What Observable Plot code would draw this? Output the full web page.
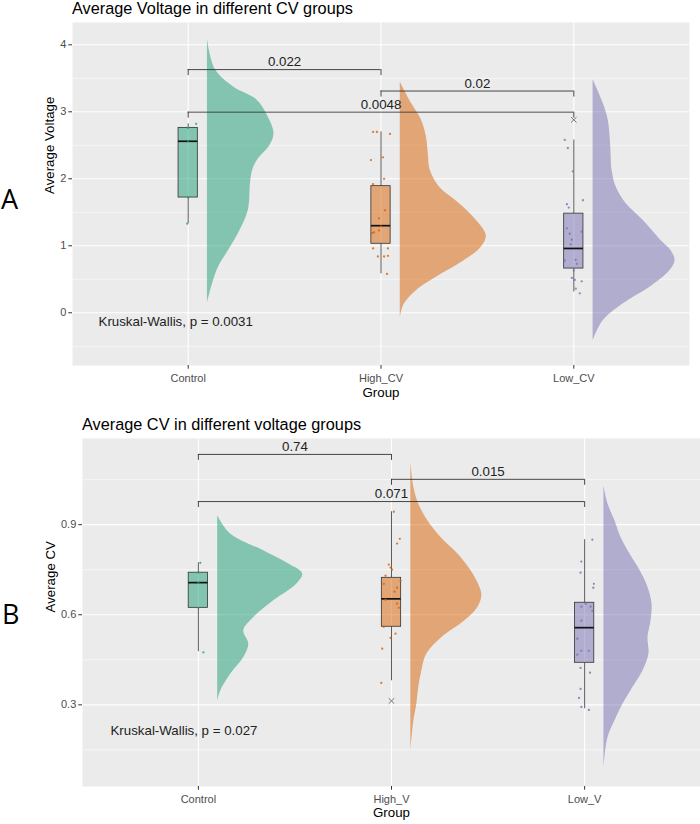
<!DOCTYPE html>
<html><head><meta charset="utf-8">
<script src="https://cdn.jsdelivr.net/npm/d3@7"></script>
<script src="https://cdn.jsdelivr.net/npm/@observablehq/plot@0.6"></script>
<style>
body{margin:0;background:#fff;font-family:"Liberation Sans",Arial,sans-serif;}
#wrap{position:relative;width:700px;height:824px;overflow:hidden;background:#fff;}
.title{position:absolute;font-size:16.3px;line-height:1;color:#000;white-space:nowrap;}
.letter{position:absolute;font-family:"Open Sans",Lato,sans-serif;font-size:27px;line-height:1;color:#000;}
.panel{position:absolute;left:0;}
</style></head><body>
<div id="wrap">
  <div class="title" style="left:72px;top:0px">Average Voltage in different CV groups</div>
  <div class="title" style="left:82px;top:416px">Average CV in different voltage groups</div>
  <div class="letter" style="left:1px;top:185px">A</div>
  <div class="letter" style="left:2px;top:600px">B</div>
  <div class="panel" id="pA" style="top:0px"></div>
  <div class="panel" id="pB" style="top:412px"></div>
</div>
<script>
// ---------- shared ----------
const colors = ["#1B9E77", "#D95F02", "#7570B3"];

// ---------- Panel A: Average Voltage ----------
const groupsA = ["Control", "High_CV", "Low_CV"];
// [lower whisker, Q1, median, Q3, upper whisker]
const boxA = [
  [1.33, 1.72, 2.56, 2.76, 2.82],
  [0.58, 1.03, 1.30, 1.89, 2.70],
  [0.31, 0.66, 0.96, 1.48, 2.58]
];
const outliersA = [[3, 2.88]];
// jittered points: [offset, value]
const pointsA_Control = [[-0.005, 1.33], [0, 1.72], [0, 2.56], [0, 2.76], [0.041, 2.82]];
const pointsA_High = [[-0.041, 2.70], [-0.021, 2.70], [0.047, 2.67], [-0.052, 2.28], [0.010, 2.32], [0.016, 2.00],
  [-0.041, 1.92], [0.021, 1.53], [-0.010, 1.41], [0, 1.29], [-0.010, 1.23], [-0.036, 1.20], [-0.047, 1.19],
  [-0.041, 0.96], [0.036, 0.96], [-0.016, 0.84], [0.016, 0.84], [0.036, 0.85], [0.031, 0.58]];
const pointsA_Low = [[-0.047, 2.58], [-0.031, 2.46], [-0.005, 2.11], [0.047, 1.68], [-0.036, 1.62], [-0.026, 1.57],
  [-0.036, 1.26], [-0.021, 1.18], [-0.010, 1.09], [-0.016, 1.02], [0.041, 1.21], [-0.047, 0.78], [0.010, 0.79],
  [0.016, 0.73], [0, 0.63], [-0.010, 0.52], [0.005, 0.49], [0.041, 0.47], [0.010, 0.36], [0.031, 0.29]];
// half-violin profiles: [value, half-width in group units]
const violinA_Control = [[4.08, 0], [3.63, 0.041], [3.37, 0.135], [3.18, 0.255], [2.95, 0.31], [2.68, 0.345],
  [2.5, 0.325], [2.28, 0.26], [2.13, 0.235], [1.93, 0.223], [1.53, 0.212], [1.18, 0.16], [0.93, 0.109],
  [0.68, 0.057], [0.43, 0.026], [0.15, 0]];
const violinA_High = [[3.44, 0], [3.13, 0.057], [2.88, 0.109], [2.63, 0.135], [2.38, 0.145], [2.13, 0.155],
  [1.88, 0.202], [1.63, 0.306], [1.38, 0.394], [1.15, 0.446], [0.98, 0.42], [0.73, 0.306], [0.53, 0.187],
  [0.33, 0.083], [0.13, 0.021], [-0.07, 0]];
const violinA_Low = [[3.48, 0], [3.13, 0.052], [2.88, 0.078], [2.63, 0.088], [2.38, 0.093], [2.13, 0.098],
  [1.88, 0.119], [1.63, 0.171], [1.38, 0.259], [1.08, 0.352], [0.93, 0.404], [0.78, 0.425], [0.63, 0.399],
  [0.38, 0.295], [0.13, 0.155], [-0.12, 0.052], [-0.42, 0]];
const bracketsA = [
  {g1: 1, g2: 2, y: 3.63, label: "0.022"},
  {g1: 2, g2: 3, y: 3.31, label: "0.02"},
  {g1: 1, g2: 3, y: 2.995, label: "0.0048"}
];
const kwA = {x: 0.535, y: -0.13, label: "Kruskal-Wallis, p = 0.0031"};
const yTicksA = [0, 1, 2, 3, 4];
const yTickLabelsA = ["0", "1", "2", "3", "4"];
const yMinorA = [-0.5, 0.5, 1.5, 2.5, 3.5];

// ---------- Panel B: Average CV ----------
const groupsB = ["Control", "High_V", "Low_V"];
const boxB = [
  [0.477, 0.623, 0.707, 0.74, 0.773],
  [0.38, 0.56, 0.653, 0.723, 0.943],
  [0.287, 0.44, 0.557, 0.64, 0.85]
];
const outliersB = [[2, 0.313]];
const pointsB_Control = [[0.026, 0.475], [0, 0.623], [0, 0.707], [0, 0.74], [0.01, 0.773]];
const pointsB_High = [[0.012, 0.943], [0.043, 0.853], [0.029, 0.837], [-0.014, 0.767], [-0.005, 0.757], [0.003, 0.75],
  [-0.031, 0.73], [0.047, 0.713], [-0.040, 0.703], [0.029, 0.69], [0.016, 0.677], [-0.031, 0.65], [0.029, 0.637],
  [0.038, 0.623], [-0.040, 0.56], [0.021, 0.537], [-0.005, 0.523], [-0.048, 0.487], [-0.053, 0.373]];
const pointsB_Low = [[0.040, 0.85], [-0.017, 0.777], [-0.021, 0.74], [0.048, 0.703], [0.045, 0.69], [0.005, 0.637],
  [-0.017, 0.627], [0.031, 0.627], [0.040, 0.613], [-0.017, 0.58], [-0.038, 0.52], [-0.017, 0.48], [0.022, 0.48],
  [-0.038, 0.467], [-0.021, 0.423], [0.028, 0.407], [-0.021, 0.353], [-0.029, 0.323], [-0.017, 0.293], [0.022, 0.283]];
const violinB_Control = [[0.93, 0], [0.869, 0.067], [0.813, 0.238], [0.769, 0.368], [0.736, 0.44], [0.702, 0.409],
  [0.647, 0.29], [0.591, 0.187], [0.547, 0.135], [0.502, 0.161], [0.458, 0.135], [0.402, 0.067], [0.347, 0.016],
  [0.313, 0]];
const violinB_High = [[1.108, 0], [1.024, 0.016], [0.969, 0.041], [0.913, 0.088], [0.858, 0.155], [0.802, 0.244],
  [0.747, 0.311], [0.691, 0.358], [0.663, 0.368], [0.624, 0.347], [0.58, 0.28], [0.524, 0.161], [0.469, 0.083],
  [0.413, 0.057], [0.358, 0.041], [0.302, 0.031], [0.247, 0.016], [0.147, 0]];
const violinB_Low = [[1.03, 0], [0.969, 0.021], [0.913, 0.057], [0.858, 0.088], [0.802, 0.135], [0.747, 0.187],
  [0.691, 0.228], [0.636, 0.249], [0.58, 0.244], [0.524, 0.228], [0.469, 0.233], [0.413, 0.202], [0.358, 0.15],
  [0.302, 0.098], [0.247, 0.057], [0.191, 0.021], [0.091, 0]];
const bracketsB = [
  {g1: 1, g2: 2, y: 1.134, label: "0.74"},
  {g1: 2, g2: 3, y: 1.051, label: "0.015"},
  {g1: 1, g2: 3, y: 0.977, label: "0.071"}
];
const kwB = {x: 0.545, y: 0.215, label: "Kruskal-Wallis, p = 0.027"};
const yTicksB = [0.3, 0.6, 0.9];
const yTickLabelsB = ["0.3", "0.6", "0.9"];
const yMinorB = [0.15, 0.45, 0.75, 1.05];

// ---------- builder ----------
function panel(cfg) {
  const boxRows = cfg.box.map((b, k) => ({i: k + 1, lo: b[0], q1: b[1], med: b[2], q3: b[3], hi: b[4], color: colors[k]}));
  const pointRows = cfg.points.flatMap((arr, k) => arr.map(([off, v]) => ({i: k + 1, off, v, color: colors[k]})));
  const violinMarks = cfg.violins.map((arr, k) =>
    Plot.areaX(arr, {
      y: d => d[0],
      x1: () => k + 1 + 0.1,
      x2: d => k + 1 + 0.1 + d[1],
      fill: colors[k], fillOpacity: 0.5, curve: "catmull-rom"
    }));
  const bw = 0.05;
  return Plot.plot({
    width: 700, height: cfg.height,
    marginLeft: cfg.ml, marginRight: cfg.mr, marginTop: cfg.mt, marginBottom: cfg.mb,
    x: {domain: [0.4, 3.6]},
    y: {domain: cfg.yDomain},
    color: {type: "identity"},
    style: {fontFamily: "'Liberation Sans', Arial, sans-serif", background: "transparent", overflow: "visible"},
    marks: [
      Plot.frame({fill: "#EBEBEB", stroke: null}),
      Plot.ruleY(cfg.yMinor, {stroke: "white", strokeWidth: 0.55}),
      Plot.ruleY(cfg.yTicks, {stroke: "white", strokeWidth: 1.1}),
      Plot.ruleX([1, 2, 3], {stroke: "white", strokeWidth: 1.1}),
      ...violinMarks,
      Plot.ruleX(boxRows, {x: "i", y1: "lo", y2: "q1", stroke: "#333", strokeWidth: 0.8}),
      Plot.ruleX(boxRows, {x: "i", y1: "q3", y2: "hi", stroke: "#333", strokeWidth: 0.8}),
      Plot.rect(boxRows, {x1: d => d.i - bw, x2: d => d.i + bw, y1: "q1", y2: "q3", fill: "color", fillOpacity: 0.5, stroke: "#333", strokeWidth: 0.8}),
      Plot.ruleY(boxRows, {y: "med", x1: d => d.i - bw, x2: d => d.i + bw, stroke: "#111", strokeWidth: 1.7}),
      Plot.dot(pointRows, {x: d => d.i + d.off, y: "v", r: 1.15, fill: "color", fillOpacity: 0.8, stroke: null}),
      Plot.dot(cfg.outliers, {x: d => d[0], y: d => d[1], symbol: "times", r: 2.6, stroke: "#555", strokeWidth: 0.8}),
      Plot.ruleY(cfg.brackets, {y: "y", x1: "g1", x2: "g2", stroke: "#333", strokeWidth: 0.9}),
      Plot.ruleX(cfg.brackets, {x: "g1", y1: "y", y2: d => d.y - cfg.tip, stroke: "#333", strokeWidth: 0.9}),
      Plot.ruleX(cfg.brackets, {x: "g2", y1: "y", y2: d => d.y - cfg.tip, stroke: "#333", strokeWidth: 0.9}),
      Plot.text(cfg.brackets, {x: d => (d.g1 + d.g2) / 2, y: "y", text: "label", dy: -7.5, fontSize: 13.3, fill: "#222"}),
      Plot.text([cfg.kw], {x: "x", y: "y", text: "label", textAnchor: "start", fontSize: 13.3, fill: "#222"}),
      Plot.axisY(cfg.yTicks, {tickFormat: (d, i) => cfg.yTickLabels[i], tickSize: 3.7, tickPadding: 2.5, fontSize: 11, fill: "#4D4D4D", stroke: "#333", label: null}),
      Plot.axisX([1, 2, 3], {tickFormat: d => cfg.groups[d - 1], tickSize: 3.7, tickPadding: 5, fontSize: 11, fill: "#4D4D4D", stroke: "#333", label: null}),
      Plot.text(["Group"], {text: d => d, frameAnchor: "bottom", dy: cfg.xLabelDy, fontSize: 13.3, fill: "#000"}),
      Plot.text([cfg.yLabel], {text: d => d, frameAnchor: "left", dx: cfg.yLabelDx, rotate: -90, fontSize: 13.3, fill: "#000"})
    ]
  });
}

document.getElementById("pA").appendChild(panel({
  groups: groupsA, box: boxA, outliers: outliersA,
  points: [pointsA_Control, pointsA_High, pointsA_Low],
  violins: [violinA_Control, violinA_High, violinA_Low],
  brackets: bracketsA, tip: 0.09, kw: kwA,
  yDomain: [-0.787, 4.333], yTicks: yTicksA, yTickLabels: yTickLabelsA, yMinor: yMinorA, yLabel: "Average Voltage",
  height: 412, ml: 72, mr: 11, mt: 22, mb: 47, xLabelDy: 31.5, yLabelDx: -23
}));
document.getElementById("pB").appendChild(panel({
  groups: groupsB, box: boxB, outliers: outliersB,
  points: [pointsB_Control, pointsB_High, pointsB_Low],
  violins: [violinB_Control, violinB_High, violinB_Low],
  brackets: bracketsB, tip: 0.02, kw: kwB,
  yDomain: [0.028, 1.187], yTicks: yTicksB, yTickLabels: yTickLabelsB, yMinor: yMinorB, yLabel: "Average CV",
  height: 412, ml: 82, mr: 0, mt: 26, mb: 38, xLabelDy: 30.5, yLabelDx: -32
}));
</script>
</body></html>
